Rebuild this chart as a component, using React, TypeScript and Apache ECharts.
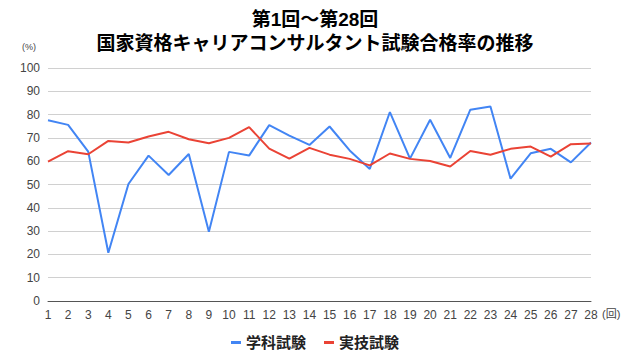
import React, { useEffect, useRef } from "react";
import * as echarts from "echarts";

const rounds = Array.from({ length: 28 }, (_, i) => String(i + 1));
const gakka = [77.6, 75.6, 64.1, 20.7, 50.2, 62.4, 54.1, 63.1, 29.7, 64.0, 62.4, 75.5, 71.0, 67.0, 74.9, 64.6, 56.7, 81.1, 61.1, 77.8, 61.4, 82.1, 83.5, 52.5, 63.4, 65.3, 59.5, 68.0];
const jitsugi = [59.8, 64.3, 63.0, 68.7, 68.0, 70.6, 72.6, 69.4, 67.7, 70.0, 74.6, 65.4, 61.1, 65.7, 62.8, 61.0, 58.2, 63.3, 61.0, 60.1, 57.7, 64.4, 62.8, 65.3, 66.3, 62.0, 67.3, 67.6];
const seriesNames = ["学科試験", "実技試験"];
const titleText = "第1回〜第28回\n国家資格キャリアコンサルタント試験合格率の推移";

const FONT = "'Liberation Sans', Arial, 'Noto Sans CJK JP', sans-serif";

export default function App() {
  const ref = useRef<HTMLDivElement>(null);
  useEffect(() => {
    const chart = echarts.init(ref.current!, undefined, { renderer: "svg" });
    chart.setOption({
      animation: false,
      textStyle: { fontFamily: FONT },
      title: {
        text: titleText,
        left: "center",
        top: 2,
        textStyle: { fontSize: 19, fontWeight: "bold", color: "#000", lineHeight: 24, fontFamily: FONT },
      },
      legend: {
        bottom: 0,
        left: "center",
        icon: "rect",
        itemWidth: 10,
        itemHeight: 3,
        itemGap: 18,
        textStyle: { fontSize: 15, fontWeight: "bold", color: "#222", fontFamily: FONT },
        data: seriesNames,
      },
      grid: { left: 48, right: 39, top: 68, bottom: 54, containLabel: false },
      xAxis: {
        type: "category",
        data: rounds,
        boundaryGap: false,
        axisLine: { lineStyle: { color: "#555", width: 1 } },
        axisTick: { show: false },
        axisLabel: { color: "#444", fontSize: 12, margin: 8, interval: 0 },
      },
      yAxis: {
        type: "value",
        min: 0,
        max: 100,
        interval: 10,
        axisLine: { show: false },
        axisTick: { show: false },
        axisLabel: { color: "#444", fontSize: 12, margin: 8 },
        splitLine: { lineStyle: { color: "#d0d0d0", width: 1 } },
      },
      graphic: [
        { type: "text", left: 22, top: 42, style: { text: "(%)", fontSize: 9, fill: "#444", fontFamily: FONT } },
        { type: "text", left: 602, top: 308, style: { text: "(回)", fontSize: 11, fill: "#444", fontFamily: FONT } },
      ],
      series: [
        { name: seriesNames[0], type: "line", data: gakka, showSymbol: false, symbol: "none", color: "#4285F4", lineStyle: { width: 2 } },
        { name: seriesNames[1], type: "line", data: jitsugi, showSymbol: false, symbol: "none", color: "#EA4335", lineStyle: { width: 2 } },
      ],
    });
    return () => chart.dispose();
  }, []);
  return <div ref={ref} style={{ width: 630, height: 355, position: "absolute", left: 0, top: 0 }} />;
}
